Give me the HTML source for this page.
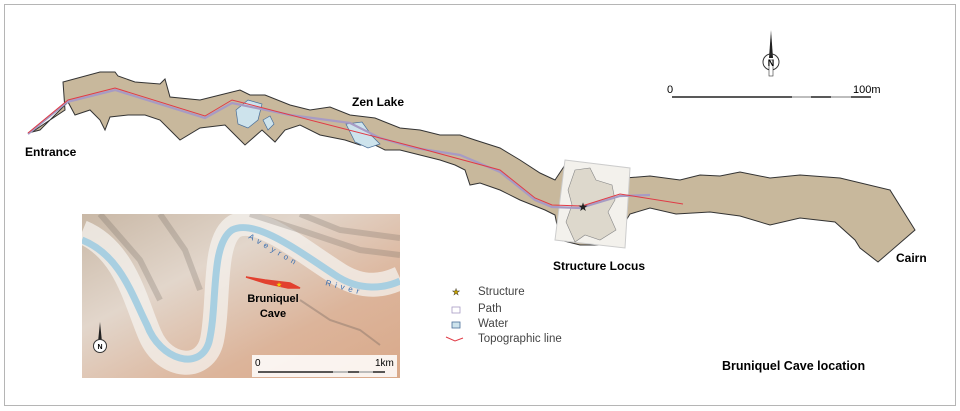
<!DOCTYPE html>
<html><head><meta charset="utf-8"><style>
html,body{margin:0;padding:0;background:#fff;}
svg{display:block;}
text{font-family:"Liberation Sans",sans-serif;}
</style></head><body>
<svg width="960" height="411" viewBox="0 0 960 411" xmlns="http://www.w3.org/2000/svg">
<defs>
<linearGradient id="terr" x1="0" y1="0" x2="1" y2="1">
<stop offset="0" stop-color="#c9b8a6"/><stop offset="0.35" stop-color="#e2d6cb"/><stop offset="0.7" stop-color="#dcb49a"/><stop offset="1" stop-color="#d9a98a"/>
</linearGradient>
<clipPath id="ic"><rect x="82" y="214" width="318" height="164"/></clipPath>
</defs>
<rect x="4.5" y="4.5" width="951" height="401" fill="#fff" stroke="#b5b5b5" stroke-width="1"/>

<path d="M28,133 L35,130 L65,110 L63,82 L100,72 L115,72 L118,76 L135,82 L160,84 L165,79 L170,97 L200,100 L220,95 L240,90 L250,95 L265,95 L290,105 L310,110 L330,107 L350,115 L375,118 L400,128 L420,130 L440,135 L460,135 L475,140 L500,148 L520,160 L540,173 L555,180 L565,165 L600,165 L625,178 L650,176 L680,180 L700,175 L720,176 L740,172 L770,178 L800,175 L840,178 L890,190 L915,230 L878,262 L860,248 L855,240 L835,222 L800,218 L770,225 L740,216 L710,212 L676,214 L650,208 L630,214 L620,230 L610,245 L580,245 L560,240 L555,215 L545,210 L520,200 L500,190 L480,183 L470,185 L465,170 L455,165 L440,160 L420,155 L400,150 L385,150 L375,145 L360,145 L345,140 L320,135 L300,125 L285,130 L275,142 L262,130 L245,145 L235,135 L225,125 L200,128 L180,140 L170,130 L160,120 L145,115 L128,115 L110,117 L105,130 L100,120 L90,110 L75,115 L68,102 L40,130 Z" fill="#c8b89c" stroke="#333" stroke-width="1"/>
<path d="M236,110 L248,100 L262,104 L258,120 L248,128 L238,124 Z" fill="#cde3ec" stroke="#4a6f99" stroke-width="0.7"/>
<path d="M263,120 L270,116 L274,124 L268,130 Z" fill="#cde3ec" stroke="#4a6f99" stroke-width="0.7"/>
<path d="M346,124 L362,122 L372,136 L380,144 L368,148 L355,142 Z" fill="#cde3ec" stroke="#4a6f99" stroke-width="0.7"/>
<polygon points="565,160 630,168 625,248 555,240" fill="#f3f1ec" stroke="#ccc" stroke-width="1"/>
<path d="M575,170 L590,168 L596,180 L612,185 L615,200 L608,212 L616,230 L600,240 L585,235 L575,242 L566,222 L572,205 L568,190 Z" fill="#ddd8cc" stroke="#888" stroke-width="0.6"/>
<polyline points="28,134 67,102 115,90 205,118 232,103 290,115 350,123 380,138 415,148 460,155 500,172 535,200 552,207 580,208 620,196 650,195" fill="none" stroke="#a79bc4" stroke-width="2.2"/>
<polyline points="28,133 68,100 115,88 205,116 232,100 415,147 500,170 535,198 552,205 582,206 620,194 683,204" fill="none" stroke="#e03b46" stroke-width="1"/>
<text x="583" y="211" font-size="12" text-anchor="middle" fill="#222">★</text>

<text x="25" y="156" font-size="12" font-weight="bold">Entrance</text>
<text x="352" y="106" font-size="12" font-weight="bold">Zen Lake</text>
<text x="553" y="270" font-size="12" font-weight="bold">Structure Locus</text>
<text x="896" y="262" font-size="12" font-weight="bold">Cairn</text>

<polygon points="771,30 773,58 769,58" fill="#222"/>
<circle cx="771" cy="62" r="8" fill="none" stroke="#333" stroke-width="1"/>
<rect x="769" y="60" width="4" height="16" fill="#fff" stroke="#333" stroke-width="0.6"/>
<text x="771" y="66" font-size="9" font-weight="bold" text-anchor="middle">N</text>
<text x="667" y="93" font-size="11">0</text>
<text x="853" y="93" font-size="11">100m</text>
<line x1="672" y1="97" x2="871" y2="97" stroke="#222" stroke-width="1.5"/>
<line x1="792" y1="97" x2="811" y2="97" stroke="#ccc" stroke-width="1.5"/>
<line x1="831" y1="97" x2="851" y2="97" stroke="#ccc" stroke-width="1.5"/>

<g clip-path="url(#ic)">
<rect x="82" y="214" width="318" height="164" fill="url(#terr)"/>
<path d="M82,232 C125,250 135,300 150,335 C165,370 205,372 212,340 C220,300 212,240 235,226 C260,215 300,250 340,275 C365,290 385,285 400,278" fill="none" stroke="#f4f1ee" stroke-width="24" opacity="0.75"/>
<path d="M100,214 L140,260 L160,300 M160,214 L185,250 L200,290 M250,214 L300,230 L360,250 L400,255 M300,214 L340,230 L400,238" fill="none" stroke="#6d625c" stroke-width="6" opacity="0.25"/>
<path d="M82,240 C120,255 132,295 147,325 C160,360 200,372 209,342 C218,305 210,245 232,230 C255,218 300,252 335,275 C360,292 385,288 400,281" fill="none" stroke="#a8cfe1" stroke-width="7"/>
<path d="M300,300 L330,320 L360,330 L380,345" fill="none" stroke="#6d625c" stroke-width="2" opacity="0.35"/>
</g>
<text x="248" y="238" font-size="8" fill="#3a6fb0" letter-spacing="4" transform="rotate(30 248 238)">Aveyron</text>
<text x="325" y="285" font-size="8" fill="#3a6fb0" letter-spacing="4" transform="rotate(15 325 285)">River</text>
<path d="M246,277 L265,280 L290,283 L300,288 L288,288 L265,283 Z" fill="#e2402f" stroke="#e2402f" stroke-width="1.5"/>
<text x="279" y="287" font-size="7" fill="#f0d000" text-anchor="middle">★</text>
<text x="273" y="302" font-size="11" font-weight="bold" text-anchor="middle">Bruniquel</text>
<text x="273" y="317" font-size="11" font-weight="bold" text-anchor="middle">Cave</text>
<polygon points="100,322 102,342 98,342" fill="#222"/>
<circle cx="100" cy="346" r="6.5" fill="#fff" stroke="#333" stroke-width="1"/>
<text x="100" y="349" font-size="7" font-weight="bold" text-anchor="middle">N</text>
<rect x="252" y="355" width="145" height="22" fill="#fff" opacity="0.85"/>
<text x="255" y="366" font-size="10">0</text>
<text x="375" y="366" font-size="10">1km</text>
<line x1="258" y1="372" x2="385" y2="372" stroke="#222" stroke-width="1.5"/>
<line x1="333" y1="372" x2="348" y2="372" stroke="#ccc" stroke-width="1.5"/>
<line x1="359" y1="372" x2="373" y2="372" stroke="#ccc" stroke-width="1.5"/>

<text x="456" y="295" font-size="9" text-anchor="middle" fill="#c9a300" stroke="#333" stroke-width="0.4">★</text>
<text x="478" y="295" font-size="11.5" fill="#444">Structure</text>
<rect x="452" y="307" width="8" height="6" fill="#fff" stroke="#a79bc4" stroke-width="0.8"/>
<text x="478" y="312" font-size="11.5" fill="#444">Path</text>
<rect x="452" y="322" width="8" height="6" fill="#cde3ec" stroke="#4a6f99" stroke-width="0.8"/>
<text x="478" y="327" font-size="11.5" fill="#444">Water</text>
<path d="M446,337 L455,341 L463,338" fill="none" stroke="#e03b46" stroke-width="1"/>
<text x="478" y="342" font-size="11.5" fill="#444">Topographic line</text>

<text x="722" y="370" font-size="12.5" font-weight="bold">Bruniquel Cave location</text>
</svg>
</body></html>
